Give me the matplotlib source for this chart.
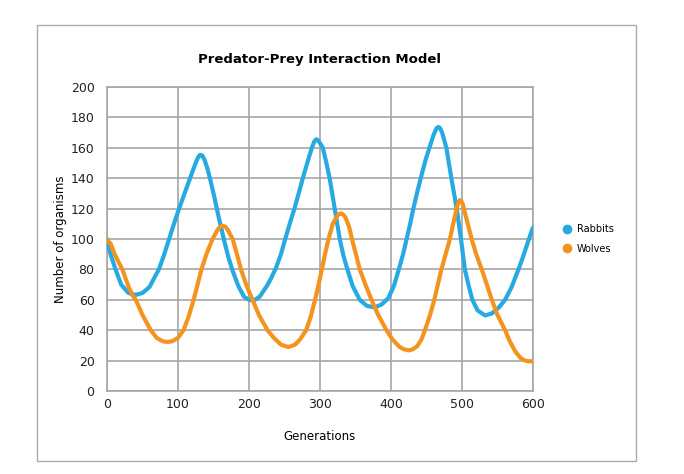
import matplotlib
matplotlib.use("Agg")
import matplotlib.pyplot as plt
from matplotlib.patches import Rectangle

# values (generation, count)
rabbit_gens = [0, 5, 12, 20, 30, 40.5, 50, 60, 73, 80, 87.5, 95, 101.6, 110,
               117, 124, 128, 131, 134, 137, 141, 145, 151, 157, 165, 171, 177,
               185, 193, 200, 206.6, 215, 225, 231, 238, 245, 251, 258, 264, 270,
               275.8, 282, 288.5, 292, 294.6, 297, 300, 304, 309, 313.6, 320.7,
               327.8, 333, 338.6, 346, 356, 366, 377, 387, 396, 404, 411, 417,
               422, 427, 431, 437, 443, 449, 454.8, 460, 464, 466.6, 469, 472,
               478, 485, 492.5, 498.6, 504, 509, 514.6, 522, 532.5, 542, 552,
               560.7, 570, 579.5, 585, 590, 595, 600]
rabbits = [100, 90, 80, 70, 64.5, 63.2, 64.5, 68.5, 80, 89, 100, 111, 120,
           131, 140, 149, 153.5, 155.4, 155, 152.5, 147, 140, 128, 115, 99,
           88, 79, 69, 62, 60, 59.5, 62, 69, 74, 81, 90, 100, 111, 120, 130,
           140, 150, 160, 164.2, 165.6, 165, 163, 160, 150, 140, 120, 100, 89,
           80, 69, 60, 56, 55, 57, 61, 69, 80, 90, 100, 110, 119, 131, 142,
           152.5, 161, 168.5, 172.8, 173.7, 173, 170, 160, 140, 120, 100, 80,
           70, 60, 53, 49.7, 51, 55, 60, 68.5, 80, 87, 94, 101, 107.5]

wolf_gens = [0, 5, 10, 15, 21.6, 30, 36, 40.5, 50, 61.6, 70, 78, 85, 92, 100,
             107.8, 115, 122, 127, 133, 140, 148.7, 155, 159, 163, 167, 170,
             177, 183, 188.7, 196, 205, 214, 226, 235, 245, 255.5, 265, 272,
             280.5, 287, 293, 298, 302.6, 307, 312, 318, 324, 327, 330, 333,
             336, 341, 345, 350, 356, 364, 372.5, 382, 393.6, 402, 412, 418,
             425, 431, 437, 443, 447.8, 455, 461, 466, 471, 477, 483, 489, 493,
             495, 497, 499, 501, 507, 513.6, 520, 527.8, 535, 542, 550, 560.7,
             567, 575, 583, 588, 593.6, 600]
wolves = [99.5, 97, 91, 86, 80, 69, 63, 60, 50, 40, 35, 32.8, 32.2, 32.8, 35,
          40, 49, 60, 69, 80, 90, 100, 105.5, 108, 108.7, 108, 106, 100, 90,
          80, 70, 60, 50, 40, 35, 30.5, 28.9, 30.5, 34, 40, 49, 60, 70, 80, 90,
          100, 110, 115, 116.5, 116.8, 116, 114, 108, 100, 91, 80, 70, 60, 50,
          40, 34, 29, 27.5, 26.7, 27.5, 29.5, 34, 40, 50, 60, 70, 80, 90, 100,
          113, 121, 124.2, 125.6, 125, 123, 112, 100, 90, 80, 70, 60, 50, 40,
          33, 26, 21.5, 20.2, 19.5, 19.7]

x_ticks = [0, 100, 200, 300, 400, 500, 600]
y_ticks = [0, 20, 40, 60, 80, 100, 120, 140, 160, 180, 200]

blue = "#27A9E1"
orange = "#F3941F"
grey = "#A6A6A6"

plt.rcParams["font.family"] = "DejaVu Sans"

fig = plt.figure(figsize=(6.84, 4.74), dpi=100)
fig.patches.append(Rectangle((37 / 684, 1 - 461 / 474), 599 / 684, 436 / 474,
                             transform=fig.transFigure, fill=False,
                             edgecolor="#ABABAB", linewidth=1.0))

ax = fig.add_axes([107 / 684, 1 - 391 / 474, 426 / 684, 304 / 474])

ax.plot(rabbit_gens, rabbits, color=blue, linewidth=3.0, label="Rabbits",
        solid_capstyle="round", solid_joinstyle="round", zorder=3)
ax.plot(wolf_gens, wolves, color=orange, linewidth=3.0, label="Wolves",
        solid_capstyle="round", solid_joinstyle="round", zorder=3)

ax.set_xlim(0, 600)
ax.set_ylim(0, 200)
ax.set_xticks(x_ticks)
ax.set_yticks(y_ticks)
ax.tick_params(length=0, labelsize=9, colors="#222222")
ax.tick_params(axis="y", pad=9)
ax.tick_params(axis="x", pad=5)
ax.grid(True, color=grey, linewidth=1.2)
ax.set_axisbelow(True)
for s in ax.spines.values():
    s.set_color(grey)
    s.set_linewidth(1.2)

ax.set_title("Predator-Prey Interaction Model", fontsize=9.5,
             fontweight="bold", pad=17.5)
ax.set_xlabel("Generations", fontsize=8.5, labelpad=13.5)
ax.set_ylabel("Number of organisms", fontsize=8.5, labelpad=2.5)

leg = ax.legend(loc="center left", bbox_to_anchor=(1.05, 0.5), frameon=False,
                fontsize=7, handlelength=0.8, handletextpad=0.6,
                labelspacing=1.0)
for h in leg.legend_handles:
    h.set_linewidth(0)
    h.set_marker("o")
    h.set_markersize(6)

fig.savefig("out.png", dpi=100)
